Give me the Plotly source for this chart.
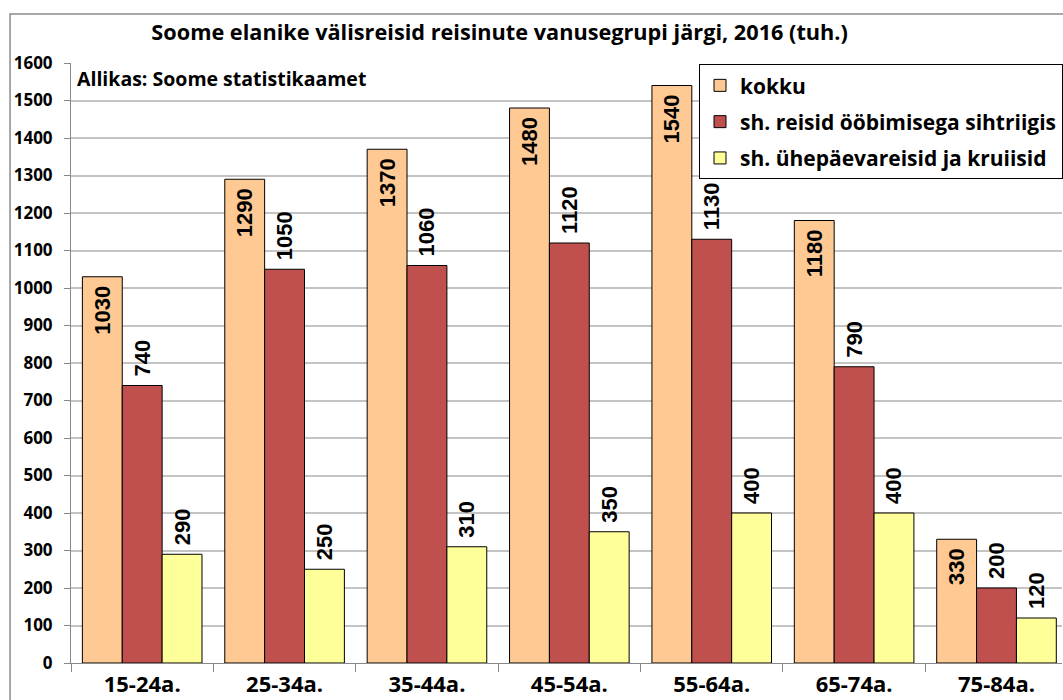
import plotly.graph_objects as go

categories = ["15-24a.", "25-34a.", "35-44a.", "45-54a.", "55-64a.", "65-74a.", "75-84a."]
kokku = [1030, 1290, 1370, 1480, 1540, 1180, 330]
oobimisega = [740, 1050, 1060, 1120, 1130, 790, 200]
uhepaeva = [290, 250, 310, 350, 400, 400, 120]
series_names = ["kokku", "sh. reisid ööbimisega sihtriigis", "sh. ühepäevareisid ja kruiisid"]
y_ticks = list(range(0, 1700, 100))

colors = ["#FFC993", "#C0504D", "#FFFF99"]
label_family = "Liberation Sans, Arial, sans-serif"
main_font = "Open Sans, Calibri, sans-serif"
NB = "\u00a0"

fig = go.Figure()
for i, (name, vals, col, pos) in enumerate([
    (series_names[0], kokku, colors[0], "inside"),
    (series_names[1], oobimisega, colors[1], "outside"),
    (series_names[2], uhepaeva, colors[2], "outside"),
]):
    if pos == "inside":
        txt = [str(v) + NB for v in vals]
    else:
        txt = [NB + str(v) for v in vals]
    tf = dict(family=label_family, size=22, color="black", weight="bold")
    fig.add_trace(go.Bar(
        x=categories, y=vals, name=name, legendgroup="g%d" % i,
        marker=dict(color=col, line=dict(color="black", width=1)),
        text=txt,
        textposition=pos,
        insidetextanchor="end",
        textangle=-90,
        textfont=tf, outsidetextfont=tf, insidetextfont=tf,
        constraintext="none",
        cliponaxis=False,
    ))

fig.update_layout(
    width=1063, height=700,
    margin=dict(l=71, r=0, t=63, b=37),
    paper_bgcolor="white", plot_bgcolor="white",
    barmode="group", bargap=0.16, bargroupgap=0,
    title=dict(text="<b>Soome elanike välisreisid reisinute vanusegrupi järgi, 2016 (tuh.)</b>",
               font=dict(family=main_font, size=21.7, color="black"),
               x=0.47, xanchor="center", y=0.953, yanchor="middle"),
    showlegend=True,
    legend=dict(x=0.634, y=0.998, xanchor="left", yanchor="top",
                bgcolor="white", bordercolor="black", borderwidth=1,
                font=dict(family=main_font, size=21, color="black", weight="bold"),
                itemwidth=30, tracegroupgap=6),
    xaxis=dict(type="category", range=[-0.5, 6.46], showgrid=False,
               showline=True, linecolor="#888888", linewidth=1,
               ticks="outside", tickson="boundaries", ticklen=8, tickcolor="#888888",
               ticklabelstandoff=2,
               tickfont=dict(family=main_font, size=22, color="black", weight="bold")),
    yaxis=dict(range=[0, 1600], tickvals=y_ticks, showgrid=True, gridcolor="#C4C4C4", gridwidth=1.5,
               showline=True, linecolor="#888888", linewidth=1,
               ticks="outside", ticklen=6, tickcolor="#888888",
               ticklabelstandoff=8,
               tickfont=dict(family=main_font, size=17, color="black", weight="bold")),
    annotations=[dict(text="<b>Allikas: Soome statistikaamet</b>", xref="paper", yref="paper",
                      x=0.004, y=0.975, xanchor="left", yanchor="middle", showarrow=False,
                      font=dict(family=main_font, size=19.5, color="black"))],
    shapes=[dict(type="rect", xref="paper", yref="paper", x0=-0.0615, x1=1.05, y0=-0.2, y1=1.0817,
                 line=dict(color="#8C8C8C", width=1.5), fillcolor="rgba(0,0,0,0)", layer="below")],
)

fig.write_html("out.html", config={"displayModeBar": False},
               post_script="document.body.style.margin='0';")
